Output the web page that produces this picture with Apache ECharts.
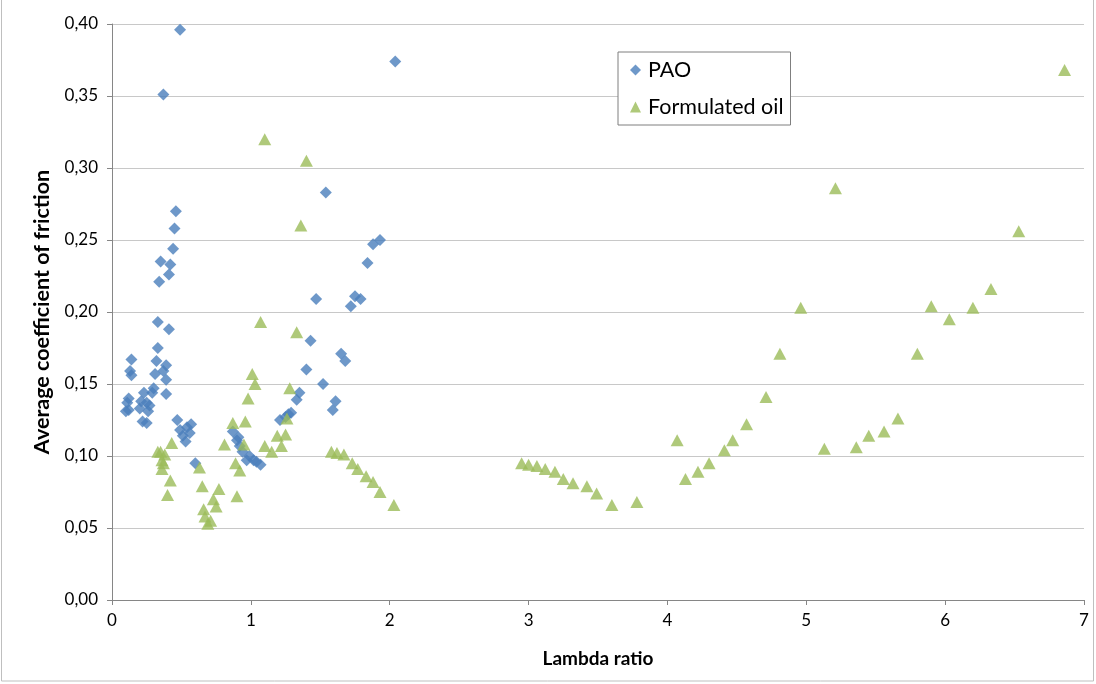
<!DOCTYPE html>
<html>
<head>
<meta charset="utf-8">
<script src="https://cdn.jsdelivr.net/npm/echarts@6/dist/echarts.min.js"></script>
<style>html,body{margin:0;padding:0;background:#fff}#c{width:1096px;height:684px}</style>
</head>
<body>
<div id="c"></div>
<script>
const xTicks = [0, 1, 2, 3, 4, 5, 6, 7];
const yTicks = [0, 0.05, 0.10, 0.15, 0.20, 0.25, 0.30, 0.35, 0.40];
const seriesNames = ['PAO', 'Formulated oil'];

const paoX = [0.49,0.37,2.04,0.46,0.45,0.44,0.35,0.42,0.41,0.34,0.33,0.41,0.33,0.14,0.13,0.14,0.32,0.39,0.37,0.31,
  0.39,0.39,0.30,0.29,0.12,0.11,0.12,0.10,0.23,0.21,0.25,0.27,0.20,0.26,0.25,0.22,0.47,0.57,0.54,0.49,
  0.51,0.56,0.53,0.60,0.87,0.90,0.92,0.91,0.97,0.99,1.02,1.04,1.07,0.94,1.21,1.29,1.33,1.35,1.40,1.43,
  1.47,1.52,1.54,1.59,1.61,1.65,1.68,1.72,1.75,1.79,1.84,1.88,1.93,1.25,1.27];
const paoY = [0.396,0.351,0.374,0.270,0.258,0.244,0.235,0.233,0.226,0.221,0.193,0.188,0.175,0.167,0.159,0.156,0.166,0.163,0.159,0.157,
  0.153,0.143,0.147,0.144,0.140,0.137,0.132,0.131,0.144,0.138,0.137,0.135,0.133,0.131,0.123,0.124,0.125,0.122,0.120,0.118,
  0.114,0.116,0.110,0.095,0.117,0.111,0.107,0.113,0.097,0.100,0.097,0.096,0.094,0.103,0.125,0.130,0.139,0.144,0.160,0.180,
  0.209,0.150,0.283,0.132,0.138,0.171,0.166,0.204,0.211,0.209,0.234,0.247,0.250,0.127,0.129];

const oilX = [0.35,0.33,0.38,0.36,0.37,0.36,0.42,0.40,0.43,0.63,0.65,0.66,0.67,0.69,0.71,0.73,0.75,0.77,0.81,0.87,
  0.89,0.90,0.92,0.96,0.95,0.98,1.01,1.03,1.07,1.10,1.10,1.15,1.19,1.22,1.25,1.26,1.28,1.33,1.36,1.40,
  1.47,1.58,1.62,1.67,1.73,1.77,1.83,1.88,1.93,2.03,
  2.95,3.00,3.06,3.12,3.19,3.25,3.32,3.42,3.49,3.60,3.78,
  4.07,4.13,4.22,4.30,4.41,4.47,4.57,4.71,4.81,4.96,5.13,5.21,5.36,5.45,5.56,5.66,5.80,5.90,6.03,6.20,
  6.33,6.53,6.86];
const oilY = [0.103,0.103,0.101,0.097,0.095,0.091,0.083,0.073,0.109,0.092,0.079,0.063,0.058,0.053,0.055,0.070,0.065,0.077,0.108,0.123,
  0.095,0.072,0.090,0.124,0.108,0.140,0.157,0.150,0.193,0.320,0.107,0.103,0.114,0.107,0.115,0.126,0.147,0.186,0.260,0.305,
  0.401,0.103,0.102,0.101,0.095,0.091,0.086,0.082,0.075,0.066,
  0.095,0.094,0.093,0.091,0.089,0.084,0.081,0.079,0.074,0.066,0.068,
  0.111,0.084,0.089,0.095,0.104,0.111,0.122,0.141,0.171,0.203,0.105,0.286,0.106,0.114,0.117,0.126,0.171,0.204,0.195,0.203,
  0.216,0.256,0.368];

const pao = paoX.map((x, i) => [x, paoY[i]]);
const oil = oilX.map((x, i) => [x, oilY[i]]);

const FONT = 'Lato, "Liberation Sans", sans-serif';
const chart = echarts.init(document.getElementById('c'), null, {renderer: 'canvas'});
chart.setOption({
  animation: false,
  backgroundColor: '#fff',
  graphic: [{
    type: 'rect', silent: true, z: -10,
    shape: {x: 1.5, y: -5, width: 1092, height: 686},
    style: {fill: 'none', stroke: '#bfbfbf', lineWidth: 1}
  }],
  grid: {left: 112, right: 12, top: 24, bottom: 84},
  legend: {
    orient: 'vertical',
    left: 618, top: 52,
    padding: [7, 7, 7, 12],
    itemGap: 15,
    itemWidth: 11, itemHeight: 11,
    backgroundColor: '#fff',
    borderColor: '#7f7f7f', borderWidth: 1,
    textStyle: {fontFamily: FONT, fontSize: 21.5, color: '#000', padding: [0, 0, 0, 2]},
    data: [{name: seriesNames[0], icon: 'diamond'}, {name: seriesNames[1], icon: 'triangle'}]
  },
  xAxis: {
    type: 'value', min: xTicks[0], max: xTicks[xTicks.length - 1], interval: 1,
    name: 'Lambda ratio', nameLocation: 'middle', nameGap: 49,
    nameTextStyle: {fontFamily: FONT, fontSize: 19, fontWeight: 'bold', color: '#000'},
    axisLine: {show: true, onZero: false, lineStyle: {color: '#868686', width: 1}},
    axisTick: {show: true, length: 5, lineStyle: {color: '#868686'}},
    axisLabel: {fontFamily: FONT, fontSize: 17, color: '#000', margin: 12},
    splitLine: {show: false}
  },
  yAxis: {
    type: 'value', min: yTicks[0], max: yTicks[yTicks.length - 1], interval: 0.05,
    name: 'Average coefficient of friction', nameLocation: 'middle', nameGap: 59,
    nameTextStyle: {fontFamily: FONT, fontSize: 21.5, fontWeight: 'bold', color: '#000'},
    axisLine: {show: true, lineStyle: {color: '#868686', width: 1}},
    axisTick: {show: true, length: 5, lineStyle: {color: '#868686'}},
    axisLabel: {fontFamily: FONT, fontSize: 17, color: '#000', margin: 14,
      formatter: v => v.toFixed(2).replace('.', ',')},
    splitLine: {show: true, lineStyle: {color: '#c8c8c8', width: 1}}
  },
  series: [
    {name: seriesNames[0], type: 'scatter', data: pao, symbol: 'diamond', symbolSize: 12,
      itemStyle: {color: '#4a7ebb'}},
    {name: seriesNames[1], type: 'scatter', data: oil, symbol: 'triangle', symbolSize: [13, 12],
      itemStyle: {color: '#9bbb59'}}
  ]
});
</script>
</body>
</html>
